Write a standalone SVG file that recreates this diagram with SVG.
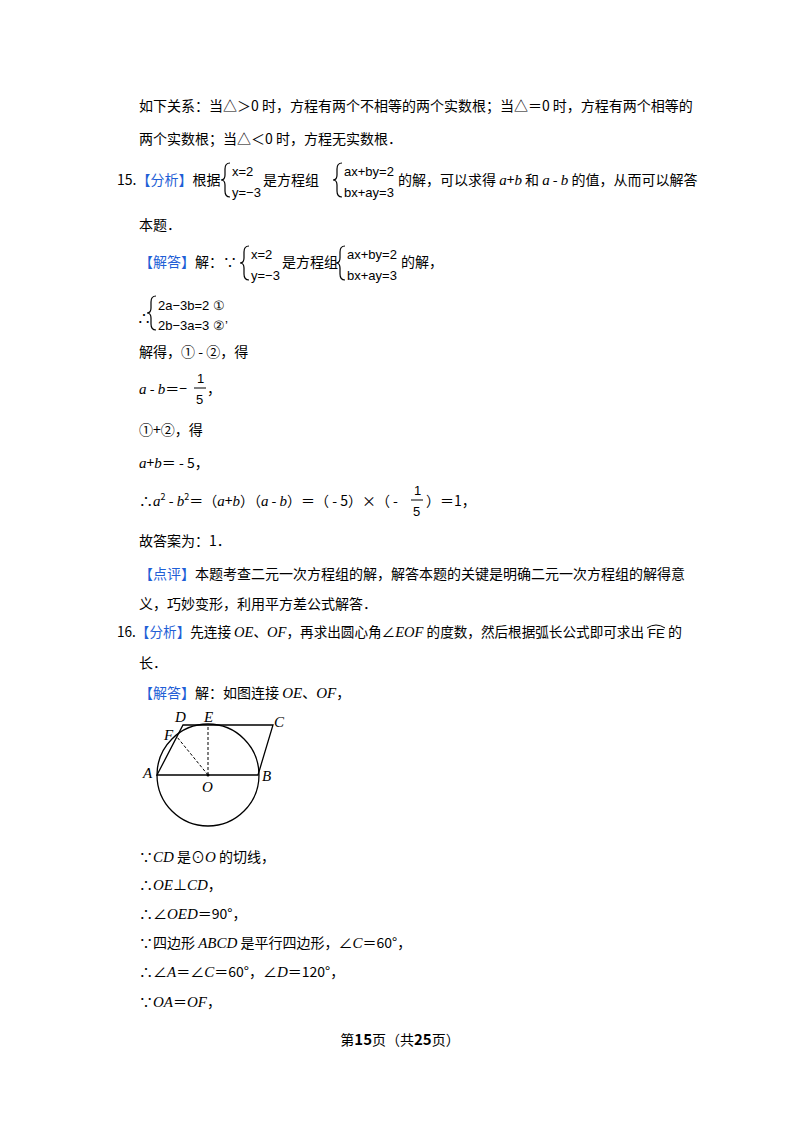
<svg xmlns="http://www.w3.org/2000/svg" width="800" height="1132" viewBox="0 0 800 1132">
<style>
text{font-family:"Noto Sans CJK SC","Liberation Serif",serif;font-size:14px;fill:#000}
.b{fill:#1f5fd6}
.i{font-family:"Liberation Serif",serif;font-style:italic;font-size:15px}
.m{font-family:"Liberation Sans",sans-serif;font-size:13px}
.br{fill:none;stroke:#000;stroke-width:1.2}
.g{fill:none;stroke:#000;stroke-width:1.3}
</style>
<rect width="800" height="1132" fill="#fff"/>
<text x="139" y="111">如下关系：当△＞0 时，方程有两个不相等的两个实数根；当△＝0 时，方程有两个相等的</text>
<text x="139" y="144">两个实数根；当△＜0 时，方程无实数根．</text>
<text x="117" y="185">15.<tspan class="b">【分析】</tspan>根据</text>
<path class="br" d="M230 163 q-5 0 -5 6 v6 q0 5 -4 5 q4 0 4 5 v6 q0 6 5 6"/>
<text class="m" x="232" y="176">x=2</text><text class="m" x="232" y="197">y=−3</text>
<text x="263" y="185">是方程组</text>
<path class="br" d="M342 163 q-5 0 -5 6 v6 q0 5 -4 5 q4 0 4 5 v6 q0 6 5 6"/>
<text class="m" x="344" y="176">ax+by=2</text><text class="m" x="344" y="197">bx+ay=3</text>
<text x="398" y="185">的解，可以求得 <tspan class="i">a</tspan>+<tspan class="i">b</tspan> 和 <tspan class="i">a</tspan> - <tspan class="i">b</tspan> 的值，从而可以解答</text>
<text x="139" y="230">本题．</text>
<text x="139" y="267"><tspan class="b">【解答】</tspan>解：∵</text>
<path class="br" d="M249 246 q-5 0 -5 6 v6 q0 5 -4 5 q4 0 4 5 v6 q0 6 5 6"/>
<text class="m" x="251" y="259">x=2</text><text class="m" x="251" y="280">y=−3</text>
<text x="282" y="267">是方程组</text>
<path class="br" d="M345 246 q-5 0 -5 6 v6 q0 5 -4 5 q4 0 4 5 v6 q0 6 5 6"/>
<text class="m" x="347" y="259">ax+by=2</text><text class="m" x="347" y="280">bx+ay=3</text>
<text x="401" y="267">的解，</text>
<text x="137" y="323" font-family="DejaVu Sans" font-size="14">∴</text>
<path class="br" d="M156 296 q-5 0 -5 6 v6 q0 5 -4 5 q4 0 4 5 v6 q0 6 5 6"/>
<text class="m" x="158" y="310">2a−3b=2 ①</text><text class="m" x="158" y="330">2b−3a=3 ②’</text>
<text x="139" y="357">解得，① - ②，得</text>
<text x="139" y="394"><tspan class="i">a</tspan> - <tspan class="i">b</tspan>＝−</text>
<text class="m" x="197" y="383">1</text><line x1="194" y1="388" x2="206" y2="388" stroke="#000"/><text class="m" x="196" y="404">5</text>
<text x="207" y="394">，</text>
<text x="139" y="435">①+②，得</text>
<text x="139" y="468"><tspan class="i">a</tspan>+<tspan class="i">b</tspan>＝ - 5，</text>
<text x="139" y="506">∴<tspan class="i">a</tspan><tspan font-size="9" dy="-6">2</tspan><tspan dy="6"> - </tspan><tspan class="i">b</tspan><tspan font-size="9" dy="-6">2</tspan><tspan dy="6">＝（</tspan><tspan class="i">a</tspan>+<tspan class="i">b</tspan>）（<tspan class="i">a</tspan> - <tspan class="i">b</tspan>）＝（ - 5）×（ - </text>
<text class="m" x="414" y="495">1</text><line x1="411" y1="500" x2="423" y2="500" stroke="#000"/><text class="m" x="413" y="516">5</text>
<text x="426" y="506">）＝1，</text>
<text x="139" y="546">故答案为：1．</text>
<text x="139" y="579"><tspan class="b">【点评】</tspan>本题考查二元一次方程组的解，解答本题的关键是明确二元一次方程组的解得意</text>
<text x="139" y="609">义，巧妙变形，利用平方差公式解答．</text>
<text x="117" y="637" textLength="527" lengthAdjust="spacingAndGlyphs">16.<tspan class="b">【分析】</tspan>先连接 <tspan class="i">OE</tspan>、<tspan class="i">OF</tspan>，再求出圆心角∠<tspan class="i">EOF</tspan> 的度数，然后根据弧长公式即可求出</text>
<text class="m" x="648" y="638" font-size="12">FE</text>
<path d="M647 628 q9 -6 18 0" fill="none" stroke="#000"/>
<text x="668" y="637">的</text>
<text x="139" y="668">长．</text>
<text x="139" y="698"><tspan class="b">【解答】</tspan>解：如图连接 <tspan class="i">OE</tspan>、<tspan class="i">OF</tspan>，</text>
<g id="figure">
<circle class="g" cx="208" cy="775" r="51"/>
<path class="g" d="M157 775 H258 L273 725 H183 Z"/>
<line x1="208" y1="775" x2="208" y2="725" stroke="#000" stroke-dasharray="3,2"/>
<line x1="208" y1="775" x2="177" y2="737" stroke="#000" stroke-dasharray="3,2"/>
<circle cx="208" cy="775" r="1.5"/>
<text class="i" x="175" y="722">D</text><text class="i" x="204" y="722">E</text><text class="i" x="274" y="727">C</text>
<text class="i" x="164" y="740">F</text><text class="i" x="143" y="778">A</text><text class="i" x="262" y="781">B</text><text class="i" x="202" y="792">O</text>
</g>
<text x="139" y="862">∵<tspan class="i">CD</tspan> 是⊙<tspan class="i">O</tspan> 的切线，</text>
<text x="139" y="890">∴<tspan class="i">OE</tspan>⊥<tspan class="i">CD</tspan>，</text>
<text x="139" y="919">∴∠<tspan class="i">OED</tspan>＝90°，</text>
<text x="139" y="948">∵四边形 <tspan class="i">ABCD</tspan> 是平行四边形，∠<tspan class="i">C</tspan>＝60°，</text>
<text x="139" y="977">∴∠<tspan class="i">A</tspan>＝∠<tspan class="i">C</tspan>＝60°，∠<tspan class="i">D</tspan>＝120°，</text>
<text x="139" y="1007">∵<tspan class="i">OA</tspan>＝<tspan class="i">OF</tspan>，</text>
<text x="400" y="1045" text-anchor="middle" font-size="13">第<tspan font-weight="bold" font-size="15">15</tspan>页（共<tspan font-weight="bold" font-size="15">25</tspan>页）</text>
</svg>
